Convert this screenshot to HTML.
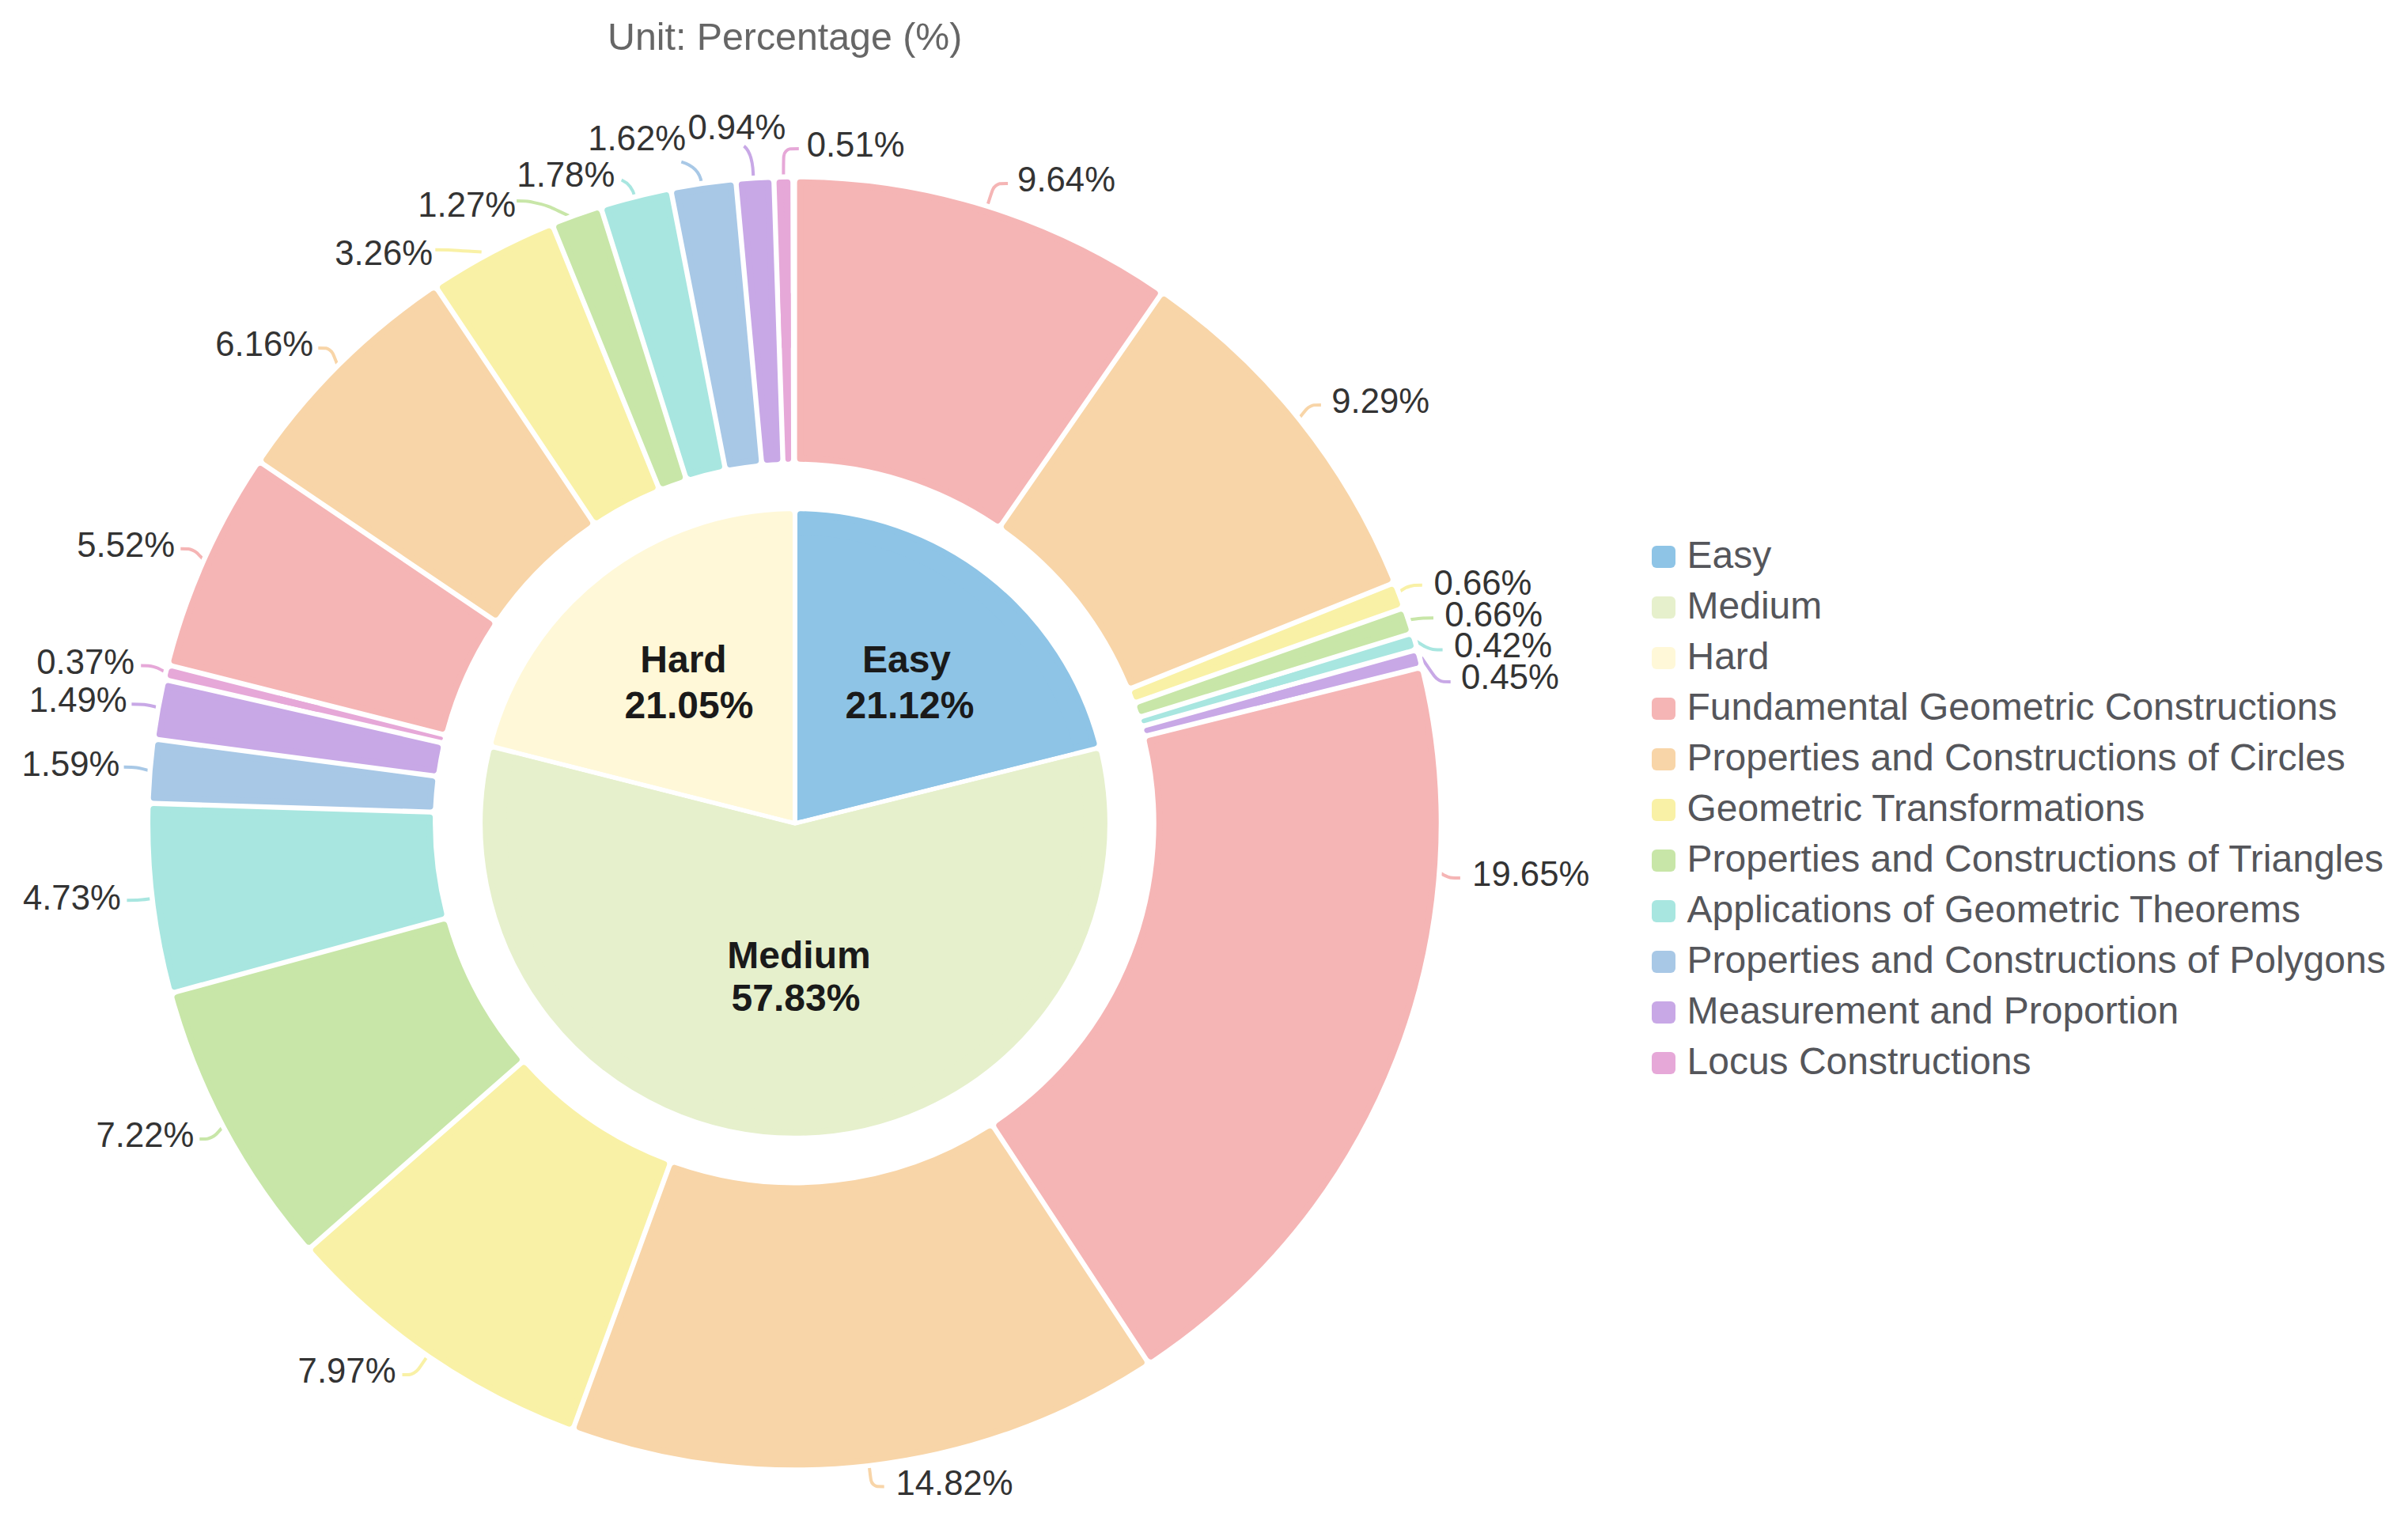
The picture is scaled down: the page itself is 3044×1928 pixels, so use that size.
<!DOCTYPE html>
<html><head><meta charset="utf-8"><title>Chart</title>
<style>
html,body{margin:0;padding:0;background:#fff;}
body{width:3044px;height:1928px;overflow:hidden;}
svg{display:block;font-family:"Liberation Sans",Arial,sans-serif;}
.sl path{stroke-linejoin:round;}
.lb text{font-size:43.7px;fill:#333;text-anchor:middle;}
.lg text{font-size:48px;fill:#55565b;}
.in text{font-size:48px;font-weight:bold;fill:#1a1a1a;text-anchor:middle;}
.ln path{fill:none;stroke-width:4;}
</style></head><body>
<svg width="3044" height="1928" viewBox="0 0 3044 1928">
<rect width="3044" height="1928" fill="#fff"/>
<text x="768" y="63.3" font-size="48.3" fill="#666">Unit: Percentage (%)</text>
<g class="ln">
<path d="M1247.8 261.22 C1255.31 237.28 1255.31 237.28 1258.98 234.59 C1262.64 231.9 1262.64 231.9 1274.1 231.9" stroke="#f5b5b5"/>
<path d="M1641.61 529.53 C1652.67 515.6 1652.67 515.6 1656.49 513.75 C1660.32 511.9 1660.32 511.9 1669.9 511.9" stroke="#f8d5a8"/>
<path d="M1767.04 749.38 C1777.37 742.67 1777.37 742.67 1782.23 741.24 C1787.08 739.8 1787.08 739.8 1797.8 739.8" stroke="#f9f1a6"/>
<path d="M1780.45 783.85 C1790.87 782.14 1790.87 782.14 1796.03 781.72 C1801.2 781.3 1801.2 781.3 1812 781.3" stroke="#c8e6a8"/>
<path d="M1789.21 809.98 C1803.13 818.7 1803.13 818.7 1808 820.1 C1812.88 821.5 1812.88 821.5 1823.6 821.5" stroke="#a8e6e0"/>
<path d="M1796.85 831.19 C1814.73 857.53 1814.73 857.53 1818.86 859.72 C1822.98 861.9 1822.98 861.9 1833.7 861.9" stroke="#c8a8e6"/>
<path d="M1818.19 1101.32 C1826.03 1107.14 1826.03 1107.14 1830.37 1108.57 C1834.71 1110 1834.71 1110 1845.9 1110" stroke="#f5b5b5"/>
<path d="M1098.65 1852.53 C1101.1 1874.15 1101.1 1874.15 1104.04 1876.78 C1106.98 1879.4 1106.98 1879.4 1117.7 1879.4" stroke="#f8d5a8"/>
<path d="M541.03 1713.38 C527.44 1733.62 527.44 1733.62 523.33 1735.81 C519.22 1738 519.22 1738 508.5 1738" stroke="#f9f1a6"/>
<path d="M283.04 1423.09 C271.78 1435.93 271.78 1435.93 267.4 1437.91 C263.02 1439.9 263.02 1439.9 252.3 1439.9" stroke="#c8e6a8"/>
<path d="M193.76 1135.74 C181.63 1137.46 181.63 1137.46 176.37 1137.83 C171.12 1138.2 171.12 1138.2 160.4 1138.2" stroke="#a8e6e0"/>
<path d="M190.05 974.58 C177.69 971.12 177.69 971.12 172.5 970.41 C167.32 969.7 167.32 969.7 156.6 969.7" stroke="#a8c8e6"/>
<path d="M201.58 894.96 C187.52 891.47 187.52 891.47 182.32 890.84 C177.12 890.2 177.12 890.2 166.4 890.2" stroke="#c8a8e6"/>
<path d="M210.2 850.43 C198.82 844.15 198.82 844.15 193.87 842.88 C188.92 841.6 188.92 841.6 178.2 841.6" stroke="#e6a8d8"/>
<path d="M258.24 708.51 C247.92 697.54 247.92 697.54 243.47 695.62 C239.02 693.7 239.02 693.7 228.3 693.7" stroke="#f5b5b5"/>
<path d="M426.65 461.43 C420.21 444.82 420.21 444.82 416.61 442.36 C413.02 439.9 413.02 439.9 402.3 439.9" stroke="#f8d5a8"/>
<path d="M608.69 318.57 C571.57 316.06 571.57 316.06 566.29 315.88 C561.02 315.7 561.02 315.7 550.3 315.7" stroke="#f9f1a6"/>
<path d="M719.11 272.83 C692.56 260.09 692.56 260.09 679.63 257.12 C666.7 254.15 666.7 254.15 653.1 254.1" stroke="#c8e6a8"/>
<path d="M785.7 227.5 Q798.7 233.35 802.56 248.98" stroke="#a8e6e0"/>
<path d="M861.3 204.6 Q884 211.4 886.64 230.66" stroke="#a8c8e6"/>
<path d="M940.5 184.6 Q952.6 194.6 952.26 227.8" stroke="#c8a8e6"/>
<path d="M990.4 223.9 C990.4 194.4 990.4 194.4 993.6 191.2 C996.8 188 996.8 188 1009.8 188" stroke="#e6a8d8"/>
</g>
<circle cx="1004.4" cy="1041" r="817.5" fill="none" stroke="#fff" stroke-width="6.4"/>
<g class="sl">
<path d="M1011.6 230.73 A810.3 810.3 0 0 1 1459.72 370.72 L1261.04 657.68 A461.3 461.3 0 0 0 1011.6 579.76 Z" fill="#f5b5b5" stroke="#f5b5b5" stroke-width="8"/>
<path d="M1471.55 378.92 A810.3 810.3 0 0 1 1753.7 732.55 L1429.78 862.54 A461.3 461.3 0 0 0 1272.88 665.88 Z" fill="#f8d5a8" stroke="#f8d5a8" stroke-width="8"/>
<path d="M1759.06 745.91 A810.3 810.3 0 0 1 1765.84 763.87 L1436.81 880.32 A461.3 461.3 0 0 0 1435.14 875.9 Z" fill="#f9f1a6" stroke="#f9f1a6" stroke-width="8"/>
<path d="M1770.64 777.45 A810.3 810.3 0 0 1 1776.67 795.67 L1443.1 898.38 A461.3 461.3 0 0 0 1441.62 893.9 Z" fill="#c8e6a8" stroke="#c8e6a8" stroke-width="8"/>
<path d="M1780.91 809.43 A810.3 810.3 0 0 1 1782.87 816.13 L1583.2 871.89 A603 603 0 0 0 1582.78 870.44 Z" fill="#a8e6e0" stroke="#a8e6e0" stroke-width="8"/>
<path d="M1646.32 849.56 A669.86 669.86 0 0 1 1647.95 855.11 L1445.85 911.55 A460.04 460.04 0 0 0 1445.78 911.31 Z" fill="#a8e6e0" stroke="#a8e6e0" stroke-width="5.48"/>
<path d="M1786.75 830 A810.3 810.3 0 0 1 1788.92 838.22 L1587.75 888.32 A603 603 0 0 0 1587.07 885.76 Z" fill="#c8a8e6" stroke="#c8a8e6" stroke-width="8"/>
<path d="M1650.85 867.09 A669.43 669.43 0 0 1 1652.43 873.07 L1449.64 923.56 A460.47 460.47 0 0 0 1449.57 923.29 Z" fill="#c8a8e6" stroke="#c8a8e6" stroke-width="6.34"/>
<path d="M1792.4 852.2 A810.3 810.3 0 0 1 1454.77 1714.61 L1263.37 1422.75 A461.3 461.3 0 0 0 1453.72 936.53 Z" fill="#f5b5b5" stroke="#f5b5b5" stroke-width="8"/>
<path d="M1442.73 1722.51 A810.3 810.3 0 0 1 732.92 1804.47 L852.77 1476.67 A461.3 461.3 0 0 0 1251.33 1430.65 Z" fill="#f8d5a8" stroke="#f8d5a8" stroke-width="8"/>
<path d="M719.39 1799.52 A810.3 810.3 0 0 1 399.76 1580.45 L662.26 1350.41 A461.3 461.3 0 0 0 839.25 1471.72 Z" fill="#f9f1a6" stroke="#f9f1a6" stroke-width="8"/>
<path d="M390.27 1569.62 A810.3 810.3 0 0 1 224.53 1260.98 L561.28 1169.21 A461.3 461.3 0 0 0 652.77 1339.58 Z" fill="#c8e6a8" stroke="#c8e6a8" stroke-width="8"/>
<path d="M220.74 1247.08 A810.3 810.3 0 0 1 194.3 1023 L543.16 1033.86 A461.3 461.3 0 0 0 557.49 1155.32 Z" fill="#a8e6e0" stroke="#a8e6e0" stroke-width="8"/>
<path d="M194.75 1008.61 A810.3 810.3 0 0 1 200.13 942.31 L546.17 987.9 A461.3 461.3 0 0 0 543.6 1019.46 Z" fill="#a8c8e6" stroke="#a8c8e6" stroke-width="8"/>
<path d="M202.01 928.04 A810.3 810.3 0 0 1 212.88 867.58 L553.14 945.3 A461.3 461.3 0 0 0 548.05 973.62 Z" fill="#c8a8e6" stroke="#c8a8e6" stroke-width="8"/>
<path d="M216.08 853.54 A810.3 810.3 0 0 1 217.12 849.23 L402.05 896.02 Z" fill="#e6a8d8" stroke="#e6a8d8" stroke-width="8"/>
<path d="M351.85 886.57 A670.57 670.57 0 0 1 353.05 881.59 L557.85 933.41 A459.33 459.33 0 0 0 557.8 933.62 Z" fill="#e6a8d8" stroke="#e6a8d8" stroke-width="4.05"/>
<path d="M220.65 835.27 A810.3 810.3 0 0 1 329.16 593.08 L618.28 788.59 A461.3 461.3 0 0 0 559.01 920.88 Z" fill="#f5b5b5" stroke="#f5b5b5" stroke-width="8"/>
<path d="M337.22 581.15 A810.3 810.3 0 0 1 548.12 371.38 L742.09 661.54 A461.3 461.3 0 0 0 626.35 776.66 Z" fill="#f8d5a8" stroke="#f8d5a8" stroke-width="8"/>
<path d="M560.09 363.37 A810.3 810.3 0 0 1 693.83 292.58 L824.73 616.13 A461.3 461.3 0 0 0 754.06 653.54 Z" fill="#f9f1a6" stroke="#f9f1a6" stroke-width="8"/>
<path d="M707.18 287.18 A810.3 810.3 0 0 1 754.47 270.21 L859.17 603.16 A461.3 461.3 0 0 0 838.08 610.73 Z" fill="#c8e6a8" stroke="#c8e6a8" stroke-width="8"/>
<path d="M768.2 265.89 A810.3 810.3 0 0 1 842.04 247.13 L908.93 589.69 A461.3 461.3 0 0 0 872.9 598.84 Z" fill="#a8e6e0" stroke="#a8e6e0" stroke-width="8"/>
<path d="M856.17 244.37 A810.3 810.3 0 0 1 923.53 234.75 L955.27 582.32 A461.3 461.3 0 0 0 923.06 586.93 Z" fill="#a8c8e6" stroke="#a8c8e6" stroke-width="8"/>
<path d="M937.87 233.44 A810.3 810.3 0 0 1 971.25 231.38 L982.43 580.22 A461.3 461.3 0 0 0 969.61 581.01 Z" fill="#c8a8e6" stroke="#c8a8e6" stroke-width="8"/>
<path d="M985.64 230.92 A810.3 810.3 0 0 1 995.22 230.75 L995.72 438.06 A603 603 0 0 0 992.28 438.12 Z" fill="#e6a8d8" stroke="#e6a8d8" stroke-width="8"/>
<path d="M989.63 372.03 A669.13 669.13 0 0 1 996.09 371.92 L996.6 580.3 A460.77 460.77 0 0 0 996.31 580.3 Z" fill="#e6a8d8" stroke="#e6a8d8" stroke-width="6.94"/>
<path d="M1012 650.26 A390.8 390.8 0 0 1 1382.49 939.89 L1012 1032.05 Z" fill="#8ec4e6" stroke="#8ec4e6" stroke-width="8"/>
<path d="M1008 676.21 A364.8 364.8 0 0 1 1358.28 950.04 L1008 1037.16 Z" fill="#8ec4e6"/>
<path d="M1385.87 953.48 A390.8 390.8 0 1 1 624.52 951.8 L1004.98 1048.22 Z" fill="#e6f0cc" stroke="#e6f0cc" stroke-width="8"/>
<path d="M1359.73 955.86 A364.8 364.8 0 1 1 650.65 954.3 L1004.99 1044.09 Z" fill="#e6f0cc"/>
<path d="M627.95 938.23 A390.8 390.8 0 0 1 998 650.26 L998 1032 Z" fill="#fff8d8" stroke="#fff8d8" stroke-width="8"/>
<path d="M652.13 948.48 A364.8 364.8 0 0 1 1002 676.21 L1002 1037.14 Z" fill="#fff8d8"/>
</g>
<g class="lb">
<text x="1348.05" y="241.6">9.64%</text>
<text x="1745.25" y="522">9.29%</text>
<text x="1874.4" y="752">0.66%</text>
<text x="1888.25" y="791.8">0.66%</text>
<text x="1900.05" y="831.3">0.42%</text>
<text x="1909" y="871.1">0.45%</text>
<text x="1935.2" y="1120.1">19.65%</text>
<text x="1206.6" y="1890.2">14.82%</text>
<text x="438.55" y="1748.4">7.97%</text>
<text x="183.45" y="1450.1">7.22%</text>
<text x="90.85" y="1149.5">4.73%</text>
<text x="89.4" y="981.4">1.59%</text>
<text x="98.75" y="899.9">1.49%</text>
<text x="108.15" y="851.8">0.37%</text>
<text x="159.15" y="704.2">5.52%</text>
<text x="334.2" y="450.2">6.16%</text>
<text x="485.15" y="334.5">3.26%</text>
<text x="590.2" y="274.3">1.27%</text>
<text x="715.3" y="235.9">1.78%</text>
<text x="805.1" y="190.2">1.62%</text>
<text x="931.35" y="176.1">0.94%</text>
<text x="1081.6" y="197.7">0.51%</text>
</g>
<g class="in">
<text x="1146" y="850.2">Easy</text><text x="1150" y="907.7">21.12%</text>
<text x="864" y="850.2">Hard</text><text x="871" y="907.7">21.05%</text>
<text x="1010" y="1223.7">Medium</text><text x="1006" y="1278.3">57.83%</text>
</g>
<g class="lg">
<rect x="2088" y="690" width="30" height="28" rx="6" fill="#8ec4e6"/>
<text x="2132.5" y="717.9">Easy</text>
<rect x="2088" y="754" width="30" height="28" rx="6" fill="#e6f0cc"/>
<text x="2132.5" y="781.9">Medium</text>
<rect x="2088" y="818" width="30" height="28" rx="6" fill="#fff8d8"/>
<text x="2132.5" y="845.9">Hard</text>
<rect x="2088" y="882" width="30" height="28" rx="6" fill="#f5b5b5"/>
<text x="2132.5" y="909.9">Fundamental Geometric Constructions</text>
<rect x="2088" y="946" width="30" height="28" rx="6" fill="#f8d5a8"/>
<text x="2132.5" y="973.9">Properties and Constructions of Circles</text>
<rect x="2088" y="1010" width="30" height="28" rx="6" fill="#f9f1a6"/>
<text x="2132.5" y="1037.9">Geometric Transformations</text>
<rect x="2088" y="1074" width="30" height="28" rx="6" fill="#c8e6a8"/>
<text x="2132.5" y="1101.9">Properties and Constructions of Triangles</text>
<rect x="2088" y="1138" width="30" height="28" rx="6" fill="#a8e6e0"/>
<text x="2132.5" y="1165.9">Applications of Geometric Theorems</text>
<rect x="2088" y="1202" width="30" height="28" rx="6" fill="#a8c8e6"/>
<text x="2132.5" y="1229.9">Properties and Constructions of Polygons</text>
<rect x="2088" y="1266" width="30" height="28" rx="6" fill="#c8a8e6"/>
<text x="2132.5" y="1293.9">Measurement and Proportion</text>
<rect x="2088" y="1330" width="30" height="28" rx="6" fill="#e6a8d8"/>
<text x="2132.5" y="1357.9">Locus Constructions</text>
</g>
</svg>
</body></html>
